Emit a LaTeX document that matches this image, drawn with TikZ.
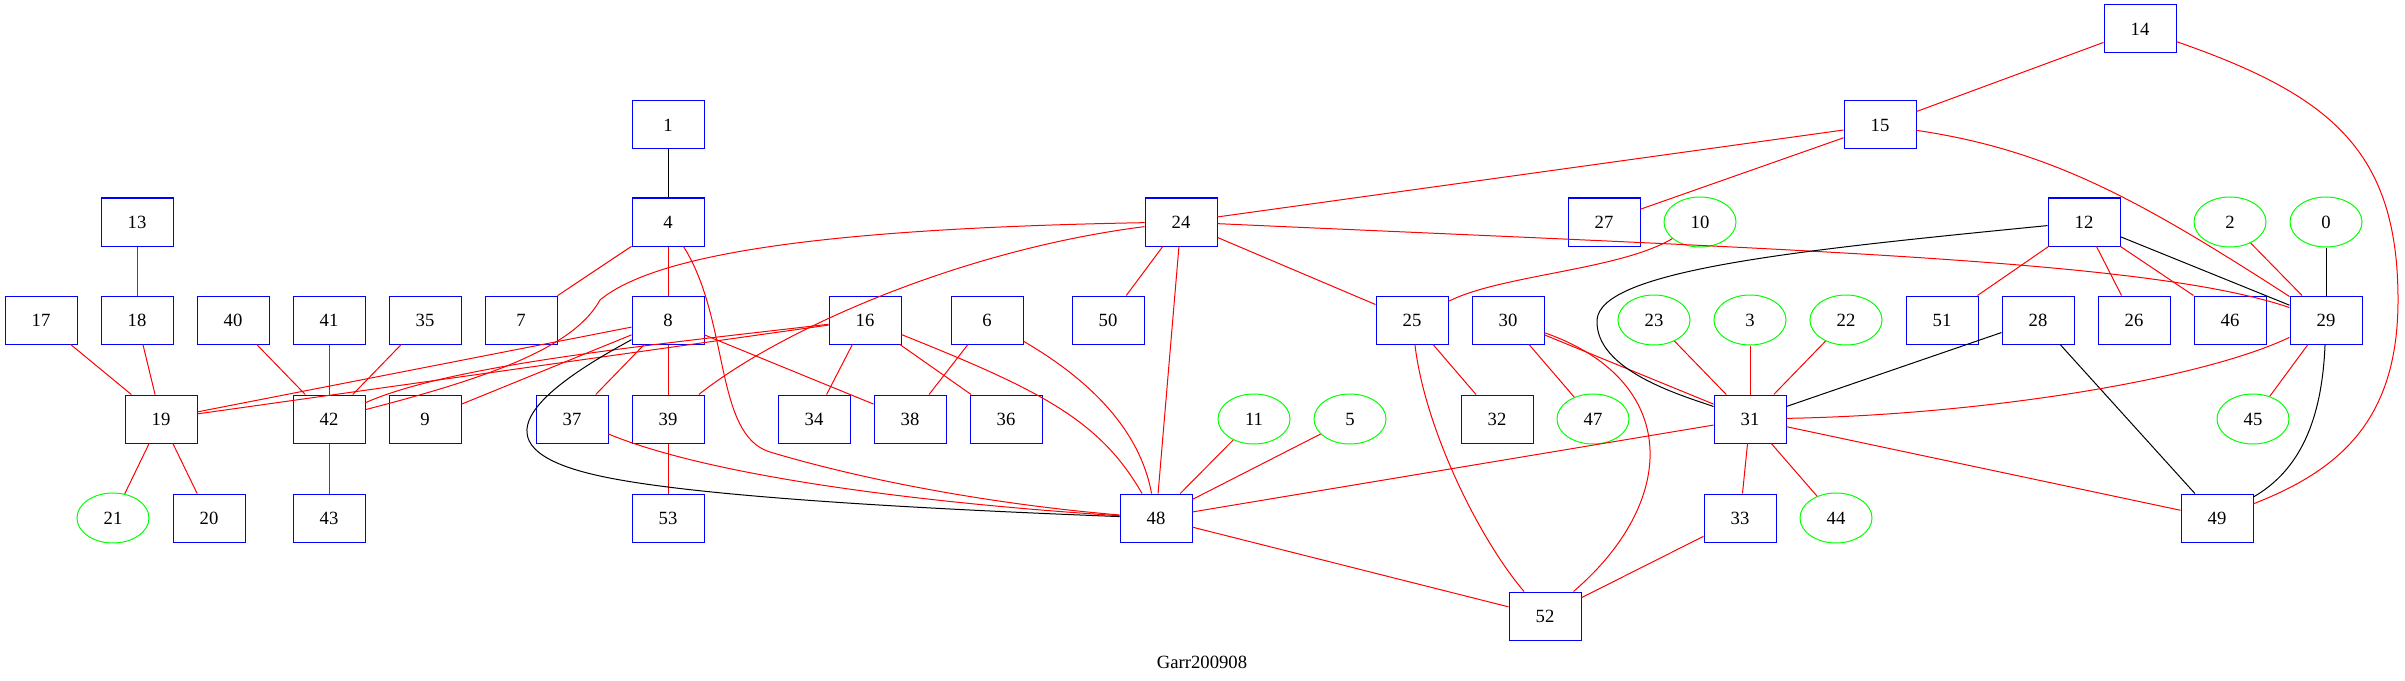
\documentclass[tikz,border=0pt]{standalone}
\usepackage{fontspec}
\setmainfont{Liberation Serif}
\usetikzlibrary{shapes.geometric}

\begin{document}
\begin{tikzpicture}[x=0.75pt,y=-0.75pt,font=\fontsize{14}{16}\selectfont,
    sq/.style={draw=blue,line width=.75pt,minimum width=54pt,minimum height=36pt,inner sep=0pt},
    ov/.style={ellipse,draw=green,line width=.75pt,minimum width=54pt,minimum height=37.5pt,inner sep=0pt},
    re/.style={draw=red,line width=.75pt},
    bk/.style={draw=black,line width=.75pt}]
    \useasboundingbox (0,0) rectangle (2405,681);

    \foreach \n/\x/\y in {14/2140/29, 1/668/125, 15/1880/125,
        13/137/222, 4/668/222, 24/1181/222, 27/1604/222, 12/2084/222,
        17/41/320, 18/137/320, 40/233/320, 41/329/320, 35/425/320, 7/521/320, 8/668/320,
        16/865/320, 6/987/320, 50/1108/320, 25/1412/320, 30/1508/320,
        51/1942/320, 28/2038/320, 26/2134/320, 46/2230/320, 29/2326/320,
        19/161/419, 42/329/419, 9/425/419, 37/572/419, 39/668/419, 34/814/419,
        38/910/419, 36/1006/419, 32/1497/419, 31/1750/419,
        20/209/518, 43/329/518, 53/668/518, 48/1156/518, 33/1740/518, 49/2217/518,
        52/1545/616} {
        \node[sq] (n\n) at (\x,\y) {\n}; }

    \foreach \n/\x/\y in {10/1700/222, 2/2230/222, 0/2326/222,
        23/1654/320, 3/1750/320, 22/1846/320,
        11/1254/419, 5/1350/419, 47/1593/419, 45/2253/419,
        21/113/518, 44/1836/518} {
        \node[ov] (n\n) at (\x,\y) {\n}; }

    \node (title) at (1202,662) {Garr200908};

    \foreach \a/\b in {13/18, 17/19, 18/19, 19/21, 19/20, 40/42, 41/42, 35/42, 42/43,
        4/7, 4/8, 8/39, 39/53, 8/37, 8/9, 8/19, 8/38, 16/34, 16/36, 16/19, 6/38,
        24/50, 24/48, 24/25, 15/24, 15/27, 14/15, 12/51, 12/26, 12/46, 2/29, 29/45,
        23/31, 3/31, 22/31, 30/31, 30/47, 25/32, 31/33, 31/44, 31/49, 31/48,
        33/52, 48/52, 11/48, 5/48} {
        \draw[re] (n\a) -- (n\b); }

    \foreach \a/\b in {1/4, 0/29, 12/29, 28/31, 28/49} {
        \draw[bk] (n\a) -- (n\b); }

    \draw[re] (n4) .. controls (730,320) and (714,435) .. (770,452)
        .. controls (870,482) and (1000,505) .. (n48);
    \draw[re] (n37) .. controls (720,480) and (950,505) .. (n48);
    \draw[re] (n24) .. controls (960,250) and (780,330) .. (n39);
    \draw[re] (n24) .. controls (850,228) and (660,250) .. (600,300)
        .. controls (575,345) and (500,375) .. (n42);
    \draw[re] (n16) .. controls (650,345) and (450,365) .. (n42);
    \draw[re] (n16) .. controls (1040,390) and (1100,420) .. (n48);
    \draw[re] (n6) .. controls (1090,380) and (1140,430) .. (n48);
    \draw[re] (n15) .. controls (2050,150) and (2140,200) .. (n29);
    \draw[re] (n14) .. controls (2330,95) and (2398,150) .. (2398,300)
        .. controls (2398,420) and (2340,470) .. (n49);
    \draw[re] (n24) .. controls (1800,250) and (2150,260) .. (n29);
    \draw[re] (n10) .. controls (1620,270) and (1500,275) .. (n25);
    \draw[re] (n30) .. controls (1680,380) and (1680,500) .. (n52);
    \draw[re] (n25) .. controls (1425,430) and (1480,540) .. (n52);
    \draw[re] (n29) .. controls (2200,380) and (1980,415) .. (n31);

    \draw[bk] (n8) .. controls (520,400) and (480,450) .. (600,476)
        .. controls (700,498) and (950,510) .. (n48);
    \draw[bk] (n12) .. controls (1800,250) and (1600,270) .. (1597,320)
        .. controls (1595,370) and (1680,395) .. (n31);
    \draw[bk] (n29) .. controls (2322,420) and (2300,470) .. (n49);
\end{tikzpicture}
\end{document}
